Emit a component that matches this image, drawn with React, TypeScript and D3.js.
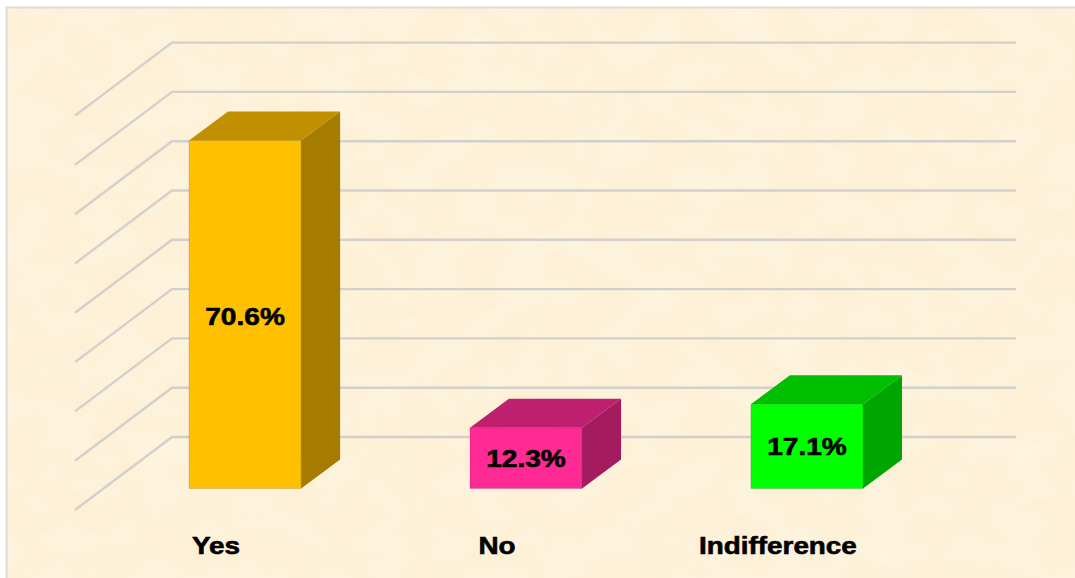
import React from "react";
import * as d3 from "d3";

const categories = ["Yes", "No", "Indifference"];
const values = [70.6, 12.3, 17.1];
const valueLabels = ["70.6%", "12.3%", "17.1%"];
const frontColors = ["#ffc000", "#ff2a94", "#00ff00"];
const topColors = ["#c09000", "#bf1f6f", "#00bf00"];
const sideColors = ["#a67c00", "#a51b60", "#00a500"];
const gridValues = [0, 10, 20, 30, 40, 50, 60, 70, 80];

const W = 1075;
const H = 578;
const DX = 39;
const DY = 29;
const y = d3.scaleLinear().domain([0, 80]).range([488.5, 94.1]);
const x = d3.scaleBand<string>().domain(categories).range([189, 863]).paddingInner(0.601).paddingOuter(0);
const poly = (pts: [number, number][]) => d3.line()(pts) + "Z";

export default function App() {
  const bw = x.bandwidth();
  return (
    <svg width={W} height={H} viewBox={`0 0 ${W} ${H}`}
      style={{ position: "absolute", left: 0, top: 0, display: "block" }}
      fontFamily="'Liberation Sans', Arial, sans-serif">
      <defs>
        <filter id="parchment" x="0" y="0" width="100%" height="100%">
          <feTurbulence type="fractalNoise" baseFrequency="0.022 0.03" numOctaves={3} seed={7} />
          <feColorMatrix type="matrix" values="0 0 0 0 1  0 0 0 0 0.97  0 0 0 0 0.88  0.7 0 0 0 -0.25" />
        </filter>
      </defs>
      <rect width={W} height={H} fill="#ffffff" />
      <rect x={6.5} y={7.5} width={W} height={H} fill="#fdf0d6" stroke="#dcdcdc" strokeWidth={2} />
      <rect x={8} y={9} width={W - 8} height={H - 9} filter="url(#parchment)" />
      {gridValues.map((v) => {
        const yy = y(v) - 51.5;
        return (
          <g key={v}>
            <path d={`M75,${yy + 73}L172,${yy}L1016,${yy}`} fill="none" stroke="#d3d0cb" strokeWidth={2.4} />
          </g>
        );
      })}
      {categories.map((c, i) => {
        const x0 = x(c)!;
        const x1 = x0 + bw;
        const top = y(values[i]);
        const base = y(0);
        const labelShift = base - top > 200 ? 11 : 9;
        return (
          <g key={c}>
            <path d={poly([[x1, top], [x1 + DX, top - DY], [x1 + DX, base - DY], [x1, base]])} fill={sideColors[i]} />
            <path d={poly([[x0, top], [x0 + DX, top - DY], [x1 + DX, top - DY], [x1, top]])} fill={topColors[i]} />
            <rect x={x0} y={top} width={bw} height={base - top} fill={frontColors[i]} stroke="#000" strokeOpacity={0.12} strokeWidth={1} />
            <text transform={`translate(${x0 + bw / 2},${(top + base) / 2 + labelShift}) scale(1.17,1)`} textAnchor="middle" fontSize={24} fontWeight={700}
              stroke="#000" strokeWidth={0.6} fill="#000">{valueLabels[i]}</text>
            <text transform={`translate(${x0 + bw / 2 - 29},554) scale(1.16,1)`} textAnchor="middle" fontSize={24} fontWeight={700}
              stroke="#000" strokeWidth={0.6} fill="#000">{c}</text>
          </g>
        );
      })}
    </svg>
  );
}
